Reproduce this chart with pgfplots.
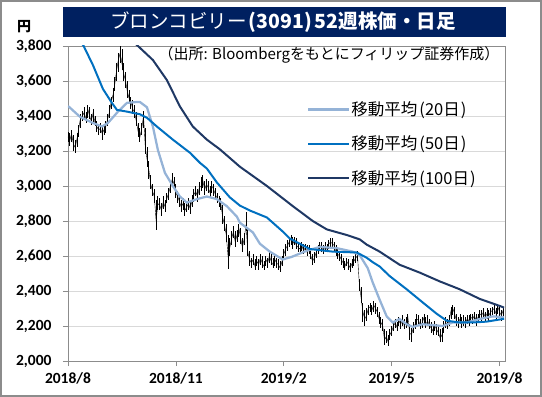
\documentclass[border=0pt]{standalone}
\usepackage{pgfplots}
\pgfplotsset{compat=1.18}
\usepackage{pgfplotstable}
\usepackage{fontspec}
\setmainfont{Carlito}
\newfontfamily\jp{Noto Sans CJK JP}
\definecolor{maA}{HTML}{95B3D7}
\definecolor{maB}{HTML}{0070C0}
\definecolor{maC}{HTML}{1F3864}
\definecolor{titlebg}{HTML}{002060}
\definecolor{gridc}{HTML}{D9D9D9}
\definecolor{axc}{HTML}{8C8C8C}
\pgfplotstableread{
i c h l
0 3280 3310 3250
1 3260 3300 3230
2 3300 3320 3250
3 3240 3290 3200
4 3220 3260 3190
5 3270 3300 3220
6 3330 3350 3280
7 3390 3410 3330
8 3400 3430 3370
9 3420 3450 3390
10 3380 3420 3360
11 3440 3460 3390
12 3400 3450 3380
13 3370 3410 3350
14 3420 3440 3360
15 3360 3400 3340
16 3340 3370 3310
17 3320 3350 3290
18 3330 3360 3300
19 3300 3340 3260
20 3320 3350 3290
21 3340 3370 3300
22 3380 3410 3340
23 3420 3460 3390
24 3480 3510 3440
25 3520 3560 3480
26 3580 3620 3540
27 3660 3700 3600
28 3720 3760 3650
29 3760 3800 3700
30 3700 3780 3660
31 3640 3700 3600
32 3600 3650 3560
33 3540 3600 3500
34 3500 3550 3470
35 3480 3510 3440
36 3440 3490 3410
37 3420 3460 3390
38 3370 3420 3340
39 3310 3360 3280
40 3280 3330 3250
41 3330 3360 3290
42 3400 3430 3330
43 3220 3330 3180
44 3150 3220 3110
45 3090 3140 3040
46 3010 3060 2980
47 2970 3010 2940
48 2940 2980 2900
49 2800 2920 2750
50 2900 2940 2860
51 2890 2930 2860
52 2860 2900 2830
53 2910 2940 2870
54 2880 2920 2850
55 2930 2960 2900
56 2960 2990 2920
57 3000 3030 2960
58 3040 3075 3000
59 3010 3050 2980
60 2960 3010 2930
61 2940 2970 2900
62 2910 2950 2880
63 2880 2920 2850
64 2900 2930 2860
65 2860 2900 2830
66 2880 2910 2850
67 2900 2930 2860
68 2870 2910 2840
69 2920 2950 2880
70 2950 2980 2910
71 2970 3000 2940
72 2940 2980 2910
73 2990 3020 2950
74 3000 3050 2970
75 3030 3060 2990
76 2980 3030 2950
77 3010 3040 2970
78 2990 3030 2960
79 2960 3000 2930
80 3000 3030 2960
81 2980 3010 2940
82 2950 2990 2920
83 2930 2960 2900
84 2910 2940 2880
85 2900 2930 2860
86 2820 2890 2780
87 2780 2830 2740
88 2720 2780 2680
89 2600 2720 2525
90 2650 2700 2600
91 2700 2740 2660
92 2740 2770 2700
93 2680 2740 2650
94 2720 2750 2680
95 2760 2780 2710
96 2700 2760 2670
97 2650 2700 2620
98 2700 2730 2660
99 2780 2850 2740
100 2620 2760 2600
101 2580 2630 2540
102 2560 2590 2530
103 2580 2610 2550
104 2540 2580 2520
105 2570 2600 2540
106 2550 2580 2520
107 2590 2610 2550
108 2560 2600 2530
109 2540 2570 2520
110 2580 2600 2540
111 2560 2590 2530
112 2600 2620 2560
113 2570 2610 2550
114 2550 2590 2530
115 2580 2600 2540
116 2560 2590 2530
117 2550 2580 2520
118 2530 2570 2510
119 2570 2600 2540
120 2610 2640 2580
121 2640 2670 2600
122 2660 2690 2630
123 2680 2710 2650
124 2700 2720 2660
125 2670 2710 2640
126 2690 2710 2660
127 2660 2700 2640
128 2650 2680 2620
129 2640 2670 2610
130 2660 2680 2630
131 2630 2670 2610
132 2650 2670 2620
133 2620 2660 2600
134 2640 2660 2610
135 2600 2640 2580
136 2570 2610 2550
137 2590 2620 2560
138 2620 2640 2590
139 2640 2660 2610
140 2660 2680 2630
141 2650 2680 2620
142 2630 2660 2610
143 2660 2680 2630
144 2640 2670 2620
145 2670 2690 2640
146 2680 2700 2650
147 2670 2700 2640
148 2660 2680 2630
149 2620 2660 2600
150 2610 2640 2580
151 2600 2630 2570
152 2580 2610 2550
153 2560 2590 2530
154 2540 2570 2520
155 2570 2590 2540
156 2550 2580 2520
157 2530 2560 2510
158 2560 2580 2530
159 2570 2600 2540
160 2590 2610 2560
161 2600 2630 2570
162 2440 2470 2400
163 2360 2420 2330
164 2280 2330 2220
165 2240 2290 2200
166 2260 2300 2230
167 2300 2320 2260
168 2310 2330 2280
169 2290 2320 2260
170 2320 2340 2280
171 2300 2330 2270
172 2280 2310 2250
173 2240 2280 2210
174 2220 2250 2190
175 2200 2240 2170
176 2120 2180 2090
177 2140 2170 2100
178 2110 2150 2085
179 2150 2180 2120
180 2170 2200 2140
181 2200 2230 2170
182 2220 2240 2190
183 2190 2220 2170
184 2230 2250 2200
185 2210 2240 2180
186 2240 2260 2200
187 2200 2240 2180
188 2220 2250 2190
189 2250 2270 2200
190 2160 2210 2120
191 2150 2190 2110
192 2190 2220 2160
193 2210 2240 2180
194 2240 2270 2200
195 2230 2260 2200
196 2200 2240 2180
197 2220 2250 2190
198 2250 2270 2210
199 2210 2250 2190
200 2230 2260 2200
201 2200 2240 2180
202 2190 2220 2160
203 2170 2210 2150
204 2200 2230 2170
205 2180 2210 2150
206 2160 2200 2140
207 2130 2180 2110
208 2150 2190 2110
209 2200 2230 2160
210 2220 2250 2190
211 2210 2240 2180
212 2230 2260 2200
213 2290 2310 2240
214 2300 2320 2260
215 2270 2310 2240
216 2230 2270 2200
217 2220 2250 2190
218 2240 2270 2210
219 2210 2250 2190
220 2230 2260 2200
221 2220 2250 2190
222 2240 2260 2210
223 2230 2260 2200
224 2250 2270 2220
225 2240 2270 2210
226 2260 2280 2230
227 2230 2270 2200
228 2250 2270 2220
229 2270 2290 2240
230 2260 2290 2230
231 2280 2300 2250
232 2250 2280 2220
233 2270 2300 2240
234 2260 2290 2230
235 2280 2300 2250
236 2290 2310 2260
237 2300 2320 2270
238 2270 2300 2240
239 2310 2320 2270
240 2280 2310 2250
241 2260 2290 2230
242 2290 2310 2250
}\prices
\begin{document}
\begin{tikzpicture}
\useasboundingbox (0pt,0pt) rectangle (542pt,397pt);
\draw[color=axc, line width=2pt] (1pt,1pt) rectangle (541pt,396pt);
\fill[titlebg] (63pt,360pt) rectangle (506pt,390pt);
\node[text=white, inner sep=0pt, font=\jp\fontsize{19.5}{21}\selectfont] at (283pt,375pt) {ブロンコビリー\kern2pt{\bfseries(3091)\kern3pt 52週株価・日足}};
\node[inner sep=0pt, font=\jp\bfseries\fontsize{14}{16}\selectfont] at (24pt,370pt) {円};
\begin{axis}[
  at={(68pt,36pt)}, anchor=south west,
  scale only axis, width=437pt, height=315pt,
  xmin=0, xmax=243, ymin=2000, ymax=3800,
  axis line style={axc, line width=0.75pt},
  ymajorgrids, grid style={gridc, line width=0.75pt},
  tick align=outside, major tick length=5pt,
  tick style={axc, line width=0.75pt},
  xtick pos=left, ytick pos=left,
  xtick={0,60,120,180,240},
  xticklabels={2018/8,2018/11,2019/2,2019/5,2019/8},
  ytick={2000,2200,2400,2600,2800,3000,3200,3400,3600,3800},
  yticklabels={{2,000},{2,200},{2,400},{2,600},{2,800},{3,000},{3,200},{3,400},{3,600},{3,800}},
  ticklabel style={font=\bfseries\fontsize{15.5}{17}\selectfont},
  yticklabel style={xshift=-8pt},
  xticklabel style={yshift=-3pt},
  legend cell align=left,
  legend style={at={(0.547,0.827)}, anchor=north west, draw=none, fill=none,
    inner sep=0pt, row sep=17pt, font=\jp\fontsize{16.5}{18}\selectfont,
    nodes={inner sep=1pt}},
  legend image code/.code={\draw[#1] (0pt,0pt) -- (41pt,0pt);},
]
\addplot[black, line width=0.4pt, mark=none, forget plot,
  error bars/.cd, y dir=both, y explicit, error mark=none,
  error bar style={black, line width=0.9pt}]
  table[x=i, y=c, y error plus expr=\thisrow{h}-\thisrow{c}, y error minus expr=\thisrow{c}-\thisrow{l}] {\prices};
\addplot[maA, line width=2.25pt] coordinates {
(0,3455) (0.6,3452) (6.7,3395) (13.9,3360) (18.9,3340) (22.2,3360) (27.8,3425) (32.8,3475) (38.3,3480) (40,3480) (43.9,3450) (47.2,3340) (50,3205) (53.9,3075) (58.3,3000) (62.2,2940) (66.1,2905) (71.7,2925) (77.2,2940) (82.8,2925) (88.3,2885) (93.9,2825) (95.6,2790) (102.8,2735) (106.7,2670) (112.2,2625) (119.4,2580) (124.4,2595) (132.8,2630) (140,2652) (149.4,2645) (158.3,2625) (162.2,2605) (166.7,2530) (169.4,2450) (173.3,2350) (177.2,2255) (180.6,2220) (184.4,2240) (188.3,2210) (191.7,2195) (197.2,2210) (202.8,2205) (208.3,2200) (213.9,2220) (221.7,2220) (228.9,2240) (236,2255) (242.5,2250)
};
\addlegendentry{移動平均\kern2pt(20日\kern1pt)}
\addplot[maB, line width=2pt] coordinates {
(0,3930) (8.7,3800) (13.9,3690) (19.4,3555) (24.4,3475) (27.2,3435) (32.8,3425) (40,3410) (43.9,3390) (49.4,3340) (58.3,3265) (67.8,3190) (73.3,3133) (77.2,3100) (82.8,3020) (90,2935) (95.6,2888) (101.1,2860) (110.6,2820) (119.4,2740) (123.3,2700) (128.9,2670) (134.4,2640) (147.2,2625) (160.6,2620) (166.1,2590) (169.4,2565) (173.3,2540) (178.9,2485) (188.3,2410) (197.2,2335) (205,2270) (210.6,2230) (217.8,2220) (225,2220) (232.8,2225) (241.7,2240) (242.5,2242)
};
\addlegendentry{移動平均\kern2pt(50日\kern1pt)}
\addplot[maC, line width=2pt] coordinates {
(30,3880) (38.9,3800) (47.2,3720) (55,3605) (62.2,3455) (69.4,3340) (77.2,3265) (84.4,3210) (95.6,3110) (110.6,3000) (125,2885) (136.1,2800) (143.9,2752) (155,2720) (162.2,2695) (166.1,2665) (173.3,2625) (184.4,2550) (195.6,2505) (206.7,2455) (217.8,2410) (228.9,2355) (240,2315) (242.5,2305)
};
\addlegendentry{移動平均\kern2pt(100日\kern1pt)}
\end{axis}
\node[inner sep=0pt, font=\jp\fontsize{15}{17}\selectfont] at (329pt,342pt) {（出所: Bloombergをもとにフィリップ証券作成）};
\end{tikzpicture}
\end{document}
